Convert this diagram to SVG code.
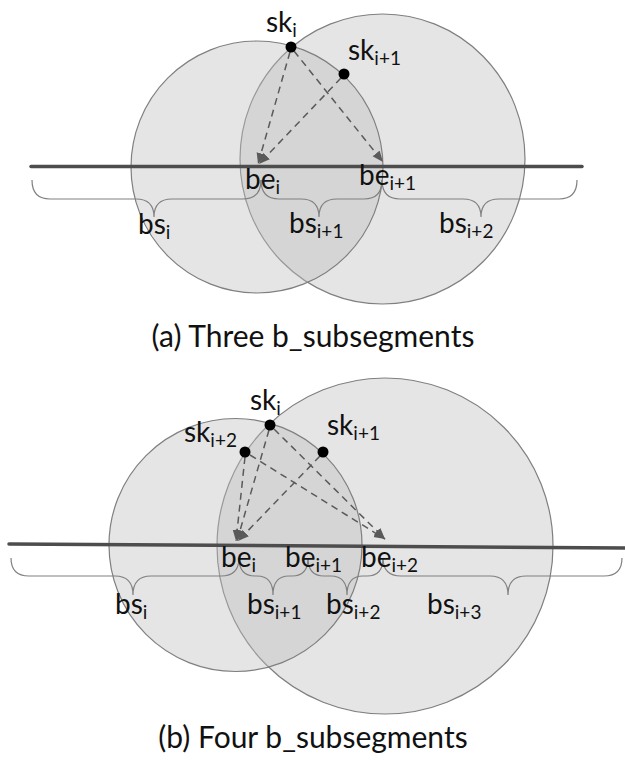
<svg xmlns="http://www.w3.org/2000/svg" width="625" height="760" viewBox="0 0 625 760">
<style>
.circ{fill:#bfbfbf;fill-opacity:0.4;stroke:#7f7f7f;stroke-width:1.2}
.axis{stroke:#4d4d4d;stroke-width:3.5;stroke-linecap:round;fill:none}
.brace{fill:none;stroke:#808080;stroke-width:1.2}
.arr{fill:none;stroke:#5a5a5a;stroke-width:1.5;stroke-dasharray:7 5;marker-end:url(#ah)}
.dot{fill:#000}
.lbl{font-family:Lato,"Open Sans","Liberation Sans",sans-serif;font-size:28px;fill:#111}
.sub{font-size:19px}
.cap{font-family:Lato,"Open Sans","Liberation Sans",sans-serif;font-size:30px;fill:#111;text-anchor:middle}
</style>
<defs>
<marker id="ah" markerUnits="userSpaceOnUse" markerWidth="12" markerHeight="10" refX="11" refY="5" orient="auto">
<path d="M0,0.5 L11,5 L0,9.5 z" fill="#5a5a5a"/>
</marker>
</defs>
<rect width="625" height="760" fill="#fff"/>

<!-- (a) -->
<g id="a-circle-right"><ellipse class="circ" cx="382.5" cy="159" rx="142.5" ry="145"/></g>
<g id="a-circle-left"><circle class="circ" cx="257" cy="167" r="126"/></g>
<g id="a-line"><path class="axis" d="M31,166.5 L582,166.5"/></g>
<g id="a-braces">
<path class="brace" d="M32,180 Q32,199 50,199 L136,199 Q154,199 154,217 Q154,199 172,199 L243,199 Q261,199 261,180"/>
<path class="brace" d="M261,180 Q261,199 279,199 L301,199 Q319,199 319,217 Q319,199 337,199 L364,199 Q382,199 382,180"/>
<path class="brace" d="M382,180 Q382,199 400,199 L463,199 Q481,199 481,217 Q481,199 499,199 L559,199 Q577,199 577,180"/>
</g>
<g id="a-connectors">
<path class="arr" d="M290,52 L258,164"/>
<path class="arr" d="M294,51 L383,162"/>
<path class="arr" d="M341,78 L259,164"/>
</g>
<g id="a-sk-i"><circle class="dot" cx="291" cy="47" r="5.5"/><text class="lbl" x="266" y="32">sk<tspan class="sub" dy="5">i</tspan></text></g>
<g id="a-sk-i1"><circle class="dot" cx="344" cy="74" r="5.5"/><text class="lbl" x="348" y="60">sk<tspan class="sub" dy="5">i+1</tspan></text></g>
<g id="a-be-i"><text class="lbl" x="245" y="189">be<tspan class="sub" dy="5">i</tspan></text></g>
<g id="a-be-i1"><text class="lbl" x="359" y="185">be<tspan class="sub" dy="5">i+1</tspan></text></g>
<g id="a-bs-i"><text class="lbl" x="138" y="234">bs<tspan class="sub" dy="5">i</tspan></text></g>
<g id="a-bs-i1"><text class="lbl" x="289" y="233">bs<tspan class="sub" dy="5">i+1</tspan></text></g>
<g id="a-bs-i2"><text class="lbl" x="439" y="233">bs<tspan class="sub" dy="5">i+2</tspan></text></g>
<text class="cap" x="313" y="347">(a) Three b_subsegments</text>

<!-- (b) -->
<g id="b-circle-right"><circle class="circ" cx="385" cy="546" r="168"/></g>
<g id="b-circle-left"><circle class="circ" cx="235.5" cy="545" r="126.5"/></g>
<g id="b-line"><path class="axis" d="M9,544 L625,548"/></g>
<g id="b-braces">
<path class="brace" d="M11,558 Q11,576 29,576 L115,576 Q133,576 133,595 Q133,576 151,576 L221,576 Q239,576 239,558"/>
<path class="brace" d="M239,558 Q239,576 255,576 L257,576 Q273,576 273,595 Q273,576 289,576 L292,576 Q308,576 308,558"/>
<path class="brace" d="M308,558 Q308,576 324,576 L331,576 Q347,576 347,595 Q347,576 363,576 L367,576 Q383,576 383,558"/>
<path class="brace" d="M383,558 Q383,576 401,576 L490,576 Q508,576 508,595 Q508,576 526,576 L604,576 Q622,576 622,558"/>
</g>
<g id="b-connectors">
<path class="arr" d="M269,430 L237,541"/>
<path class="arr" d="M245,457 L236,541"/>
<path class="arr" d="M320,456 L238,541"/>
<path class="arr" d="M274,429 L385,539"/>
<path class="arr" d="M250,455 L385,539"/>
</g>
<g id="b-sk-i"><circle class="dot" cx="270" cy="425" r="5.5"/><text class="lbl" x="250" y="410">sk<tspan class="sub" dy="5">i</tspan></text></g>
<g id="b-sk-i2"><circle class="dot" cx="245" cy="452" r="5.5"/><text class="lbl" x="184" y="442">sk<tspan class="sub" dy="5">i+2</tspan></text></g>
<g id="b-sk-i1"><circle class="dot" cx="323" cy="452" r="5.5"/><text class="lbl" x="327" y="435">sk<tspan class="sub" dy="5">i+1</tspan></text></g>
<g id="b-be-i"><text class="lbl" x="221" y="567">be<tspan class="sub" dy="5">i</tspan></text></g>
<g id="b-be-i1"><text class="lbl" x="285" y="567">be<tspan class="sub" dy="5">i+1</tspan></text></g>
<g id="b-be-i2"><text class="lbl" x="361" y="567">be<tspan class="sub" dy="5">i+2</tspan></text></g>
<g id="b-bs-i"><text class="lbl" x="115" y="614">bs<tspan class="sub" dy="5">i</tspan></text></g>
<g id="b-bs-i1"><text class="lbl" x="247" y="614">bs<tspan class="sub" dy="5">i+1</tspan></text></g>
<g id="b-bs-i2"><text class="lbl" x="326" y="614">bs<tspan class="sub" dy="5">i+2</tspan></text></g>
<g id="b-bs-i3"><text class="lbl" x="427" y="614">bs<tspan class="sub" dy="5">i+3</tspan></text></g>
<text class="cap" x="313" y="748">(b) Four b_subsegments</text>
</svg>
